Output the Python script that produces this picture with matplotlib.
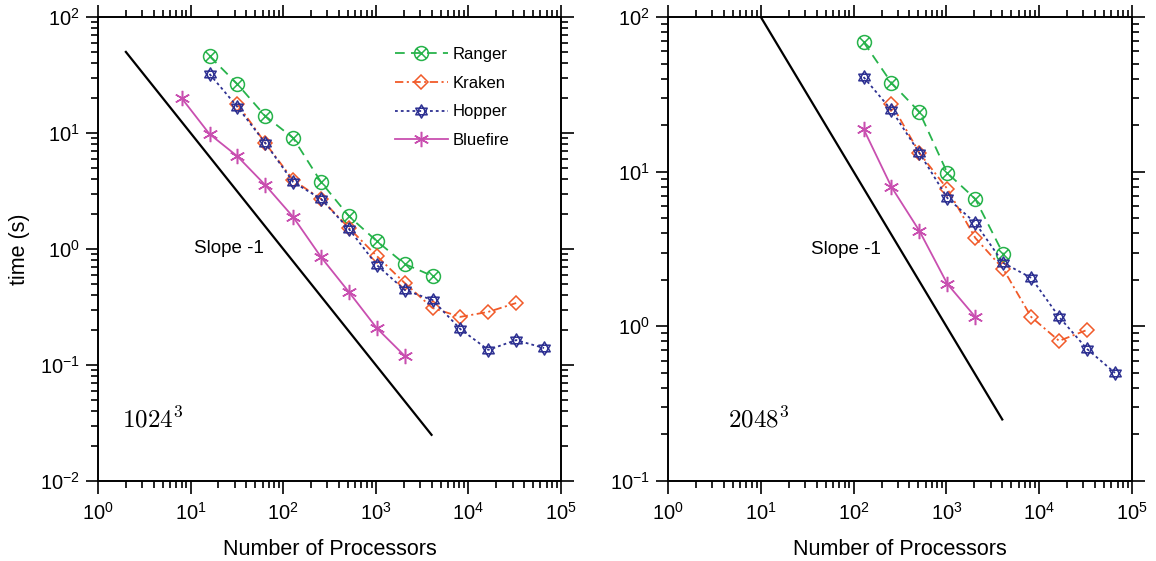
import numpy as np
import matplotlib
matplotlib.use("Agg")
import matplotlib.pyplot as plt
from matplotlib.path import Path
from matplotlib.ticker import LogLocator, NullFormatter, FixedLocator

plt.rcParams['font.family'] = ['Liberation Sans', 'DejaVu Sans']
plt.rcParams['lines.scale_dashes'] = False

# ---------------- data: 1024^3 ----------------
ranger_p1 = [16, 32, 64, 128, 256, 512, 1024, 2048, 4096]
ranger_t1 = [46, 26.4, 14.0, 9.06, 3.78, 1.92, 1.17, 0.743, 0.585]

kraken_p1 = [32, 64, 128, 256, 512, 1024, 2048, 4096, 8192, 16384, 32768]
kraken_t1 = [17.8, 8.2, 3.93, 2.70, 1.52, 0.87, 0.51, 0.31, 0.26, 0.287, 0.342]

hopper_p1 = [16, 32, 64, 128, 256, 512, 1024, 2048, 4096, 8192, 16384, 32768, 65536]
hopper_t1 = [32.3, 16.8, 8.2, 3.78, 2.70, 1.49, 0.728, 0.444, 0.363, 0.204, 0.135, 0.164, 0.140]

bluefire_p1 = [8, 16, 32, 64, 128, 256, 512, 1024, 2048]
bluefire_t1 = [20.0, 9.8, 6.3, 3.56, 1.89, 0.853, 0.426, 0.208, 0.12]

slope_p1 = [2, 4000]
slope_c1 = 100.0

# ---------------- data: 2048^3 ----------------
ranger_p2 = [128, 256, 512, 1024, 2048, 4096]
ranger_t2 = [68.9, 37.5, 24.3, 9.8, 6.67, 2.94]

kraken_p2 = [256, 512, 1024, 2048, 4096, 8192, 16384, 32768]
kraken_t2 = [27.4, 13.2, 7.73, 3.73, 2.35, 1.15, 0.805, 0.948]

hopper_p2 = [128, 256, 512, 1024, 2048, 4096, 8192, 16384, 32768, 65536]
hopper_t2 = [40.9, 25.0, 13.2, 6.76, 4.66, 2.57, 2.06, 1.15, 0.714, 0.50]

bluefire_p2 = [128, 256, 512, 1024, 2048]
bluefire_t2 = [18.9, 7.96, 4.14, 1.88, 1.15]

slope_p2 = [10, 4000]
slope_c2 = 1000.0

labels = ["Ranger", "Kraken", "Hopper", "Bluefire"]
xticks = [1, 10, 100, 1000, 10000, 100000]

# ---------------- markers ----------------
c = 0.7071
otimes = Path.make_compound_path(
    Path.unit_circle(),
    Path([[-c, -c], [c, c], [-c, c], [c, -c]],
         [Path.MOVETO, Path.LINETO, Path.MOVETO, Path.LINETO]))
tri = Path.unit_regular_polygon(3)
hexagram = Path.make_compound_path(tri, Path(-tri.vertices, tri.codes))

styles = {
    "Ranger": dict(color="#27b34b", ls=(0, (7, 4.5)), marker=otimes, ms=10),
    "Kraken": dict(color="#f15a29", ls=(0, (6, 2.5, 1.5, 2.5)), marker="D", ms=7.5),
    "Hopper": dict(color="#2e3192", ls=(0, (2, 2.2)), marker=hexagram, ms=9.5),
    "Bluefire": dict(color="#c94fb0", ls="-", marker=(6, 2, 0), ms=11),
}

fig = plt.figure(figsize=(11.56, 5.61), dpi=100)
W, H = 1156, 561
ax1 = fig.add_axes([98 / W, 1 - 481 / H, 463 / W, 464 / H])
ax2 = fig.add_axes([668 / W, 1 - 481 / H, 464 / W, 464 / H])


def draw(ax, data, slope_p, slope_c):
    for name, (p, t) in zip(labels, data):
        s = styles[name]
        ax.plot(p, t, color=s["color"], linestyle=s["ls"], lw=1.3,
                marker=s["marker"], ms=s["ms"], mfc="none", mec=s["color"],
                mew=1.1, label=name)
    sp = np.array(slope_p, dtype=float)
    ax.plot(sp, slope_c / sp, color="black", lw=1.6)
    ax.set_xscale("log")
    ax.set_yscale("log")
    ax.set_xlim(1, 1e5)
    ax.xaxis.set_major_locator(FixedLocator(xticks))
    ax.xaxis.set_minor_locator(LogLocator(base=10, subs=np.arange(2, 10), numticks=20))
    ax.yaxis.set_minor_locator(LogLocator(base=10, subs=np.arange(2, 10), numticks=20))
    ax.xaxis.set_minor_formatter(NullFormatter())
    ax.yaxis.set_minor_formatter(NullFormatter())
    ax.tick_params(which="both", direction="out", top=True, right=True,
                   labelsize=14.5, width=1.2, color="black")
    ax.tick_params(which="major", length=9)
    ax.tick_params(axis="x", which="major", pad=6)
    ax.tick_params(axis="y", which="major", pad=4)
    ax.tick_params(which="minor", length=5)
    for sp_ in ax.spines.values():
        sp_.set_linewidth(1.4)
    ax.set_xlabel("Number of Processors", fontsize=15.5, labelpad=11)


draw(ax1, [(ranger_p1, ranger_t1), (kraken_p1, kraken_t1),
           (hopper_p1, hopper_t1), (bluefire_p1, bluefire_t1)], slope_p1, slope_c1)
ax1.set_ylim(1e-2, 1e2)
ax1.yaxis.set_major_locator(FixedLocator([1e-2, 1e-1, 1, 10, 100]))
ax1.set_ylabel("time (s)", fontsize=15.5, labelpad=7)
ax1.text(0.283, 0.502, "Slope -1", transform=ax1.transAxes, fontsize=13.5,
         ha="center", va="center")
ax1.text(0.052, 0.116, r"$1024^3$", transform=ax1.transAxes, fontsize=18,
         ha="left", va="baseline", math_fontfamily="cm")
ax1.legend(loc="upper left", bbox_to_anchor=(0.641, 0.935), frameon=False,
           fontsize=12, handlelength=3.2, handletextpad=0.3, labelspacing=0.82,
           borderpad=0, borderaxespad=0, numpoints=1)

draw(ax2, [(ranger_p2, ranger_t2), (kraken_p2, kraken_t2),
           (hopper_p2, hopper_t2), (bluefire_p2, bluefire_t2)], slope_p2, slope_c2)
ax2.set_ylim(1e-1, 1e2)
ax2.yaxis.set_major_locator(FixedLocator([1e-1, 1, 10, 100]))
ax2.text(0.384, 0.498, "Slope -1", transform=ax2.transAxes, fontsize=13.5,
         ha="center", va="center")
ax2.text(0.129, 0.116, r"$2048^3$", transform=ax2.transAxes, fontsize=18,
         ha="left", va="baseline", math_fontfamily="cm")

fig.savefig("out.png", dpi=100)
